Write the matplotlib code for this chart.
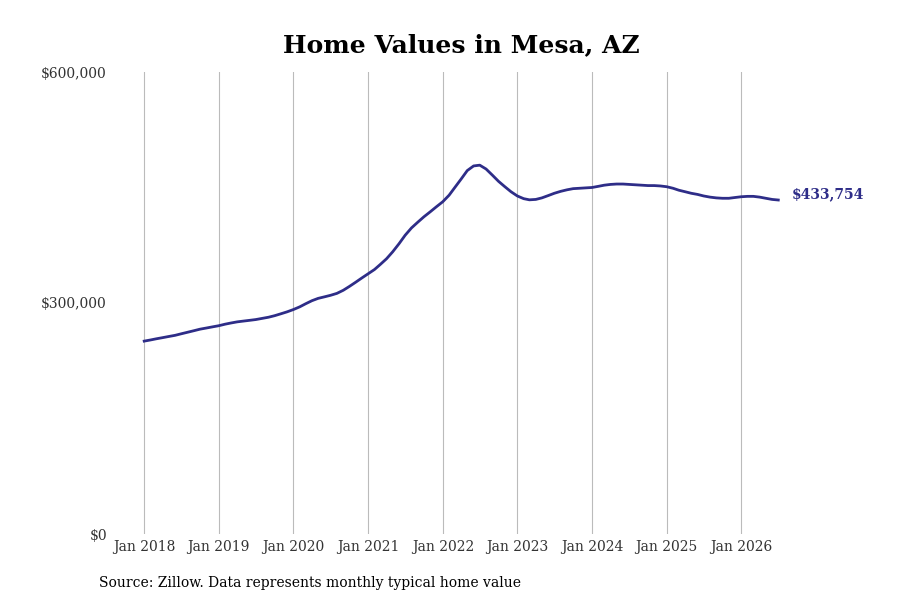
import matplotlib
matplotlib.use("Agg")
import matplotlib.pyplot as plt
import matplotlib.dates as mdates
import pandas as pd

# typical home value, monthly, Jan 2018 - Jul 2026 (thousands of $)
months = pd.date_range("2018-01-01", "2026-07-01", freq="MS")
values_k = [
    250.5, 252, 253.5, 255, 256.5, 258, 260, 262, 264, 266, 267.5, 269,      # 2018
    270.5, 272.5, 274, 275.5, 276.5, 277.5, 278.5, 280, 281.5, 283.5, 286, 288.5,  # 2019
    291.5, 295, 299, 303, 306, 308, 310, 312.5, 316.5, 321.5, 327, 332.5,    # 2020
    338, 343.5, 350, 357.5, 366.5, 377, 388, 397.5, 405, 412, 418.5, 425,    # 2021
    431.5, 440, 450, 461, 472, 478, 479, 474, 466, 458, 451, 444.5,          # 2022
    439, 435.5, 434, 434.5, 436.5, 439.5, 442.5, 445, 447, 448.5, 449, 449.5,  # 2023
    450, 451.5, 453, 454, 454.5, 454.5, 454, 453.5, 453, 452.5, 452.5, 452,  # 2024
    451, 449, 446.5, 444.5, 442.5, 441, 439, 437.5, 436.5, 436, 436, 437,    # 2025
    438, 438.5, 438.5, 437.5, 436, 434.5, 433.754,                           # 2026
]
values = [v * 1000 for v in values_k]
yticks = [0, 300000, 600000]
ytick_labels = ["$0", "$300,000", "$600,000"]

lineColor = "#2e2d88"
textColor = "#333333"

plt.rcParams["font.family"] = "DejaVu Serif"

fig, ax = plt.subplots(figsize=(9, 6), dpi=100)
ax.plot(months, values, color=lineColor, linewidth=2)

ax.set_ylim(0, 600000)
ax.set_yticks(yticks)
ax.set_yticklabels(ytick_labels, color=textColor, fontsize=10)

ax.xaxis.set_major_locator(mdates.YearLocator())
ax.xaxis.set_major_formatter(mdates.DateFormatter("%b %Y"))
ax.tick_params(axis="x", colors=textColor, labelsize=10, length=0, pad=4)
ax.tick_params(axis="y", length=0, pad=4)
for lbl in ax.get_xticklabels():
    lbl.set_color(textColor)

ax.grid(True, axis="x", color="#bbbbbb", linewidth=0.8)
ax.grid(False, axis="y")
for s in ax.spines.values():
    s.set_visible(False)

ax.annotate("${:,.0f}".format(values[-1]), xy=(months[-1], values[-1]),
            xytext=(10, 4), textcoords="offset points", color=lineColor,
            fontsize=10, fontweight="bold", va="center", ha="left")

ax.set_title("Home Values in Mesa, AZ", fontsize=18, fontweight="bold", pad=14)
fig.text(0.11, 0.022, "Source: Zillow. Data represents monthly typical home value",
         fontsize=10, color="black")

plt.savefig("out.png", dpi=100)
